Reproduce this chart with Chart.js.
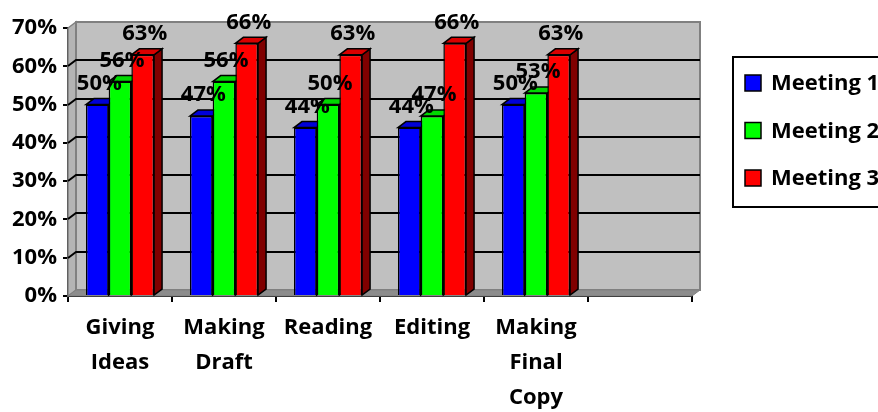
<!DOCTYPE html>
<html>
<head>
<meta charset="utf-8">
<title>Meetings</title>
<script src="https://cdn.jsdelivr.net/npm/chart.js@4.4.0/dist/chart.umd.min.js"></script>
<style>
  html, body { margin: 0; padding: 0; background: #fff; overflow: hidden; }
</style>
</head>
<body>
<canvas id="meetingChart" width="878" height="412"></canvas>
<script>
// categories (last slot is left empty on purpose)
const categories = [['Giving', 'Ideas'], ['Making', 'Draft'], ['Reading'], ['Editing'], ['Making', 'Final', 'Copy'], ''];
const seriesNames = ['Meeting 1', 'Meeting 2', 'Meeting 3'];
const meeting1 = [50, 47, 44, 44, 50, null];
const meeting2 = [56, 56, 50, 47, 53, null];
const meeting3 = [63, 66, 63, 66, 63, null];
const yMin = 0;
const yMax = 70;
const yStep = 10;

const frontColors = ['#0000ff', '#00ff00', '#ff0000'];
const topColors = ['#0000d8', '#00d800', '#d80000'];
const sideColors = ['#000080', '#008000', '#800000'];

const FONT = '"Open Sans", "DejaVu Sans", sans-serif';
const DX = 8, DY = -6;   // depth of the 3d box

function poly(ctx, pts, fill, stroke, lw) {
    ctx.beginPath();
    ctx.moveTo(pts[0][0], pts[0][1]);
    for (let i = 1; i < pts.length; i++) ctx.lineTo(pts[i][0], pts[i][1]);
    ctx.closePath();
    ctx.fillStyle = fill;
    ctx.fill();
    if (stroke) {
        ctx.strokeStyle = stroke;
        ctx.lineWidth = lw;
        ctx.stroke();
    }
}

// walls, floor, gridlines and the top/side faces of every bar
const box3d = {
    id: 'box3d',
    beforeDatasetsDraw(chart) {
        const { ctx, chartArea: a, scales: { y } } = chart;
        ctx.save();
        ctx.lineJoin = 'miter';
        // left side wall
        poly(ctx, [[a.left, a.top], [a.left + DX, a.top + DY], [a.left + DX, a.bottom + DY], [a.left, a.bottom]],
            '#b4b4b4', '#808080', 1.5);
        // back wall
        poly(ctx, [[a.left + DX, a.top + DY], [a.right + DX, a.top + DY], [a.right + DX, a.bottom + DY], [a.left + DX, a.bottom + DY]],
            '#c0c0c0', '#808080', 2);
        // floor
        poly(ctx, [[a.left, a.bottom], [a.left + DX, a.bottom + DY], [a.right + DX, a.bottom + DY], [a.right, a.bottom]],
            '#8c8c8c', '#808080', 1);

        // gridlines across side wall and back wall
        ctx.strokeStyle = '#000';
        ctx.lineWidth = 2;
        for (let v = yMin + yStep; v < yMax; v += yStep) {
            const py = Math.round(y.getPixelForValue(v));
            ctx.beginPath();
            ctx.moveTo(a.left, py);
            ctx.lineTo(a.left + DX, py + DY);
            ctx.lineTo(a.right + DX, py + DY);
            ctx.stroke();
        }

        // bar tops and sides, first series first so later fronts cover them
        chart.data.datasets.forEach((ds, di) => {
            const meta = chart.getDatasetMeta(di);
            meta.data.forEach((bar, i) => {
                if (ds.data[i] == null) return;
                const { x, y: top, base, width } = bar.getProps(['x', 'y', 'base', 'width'], true);
                const l = x - width / 2, r = x + width / 2;
                poly(ctx, [[r, top], [r + DX, top + DY], [r + DX, base + DY], [r, base]], sideColors[di], '#000', 1.5);
                poly(ctx, [[l, top], [l + DX, top + DY], [r + DX, top + DY], [r, top]], topColors[di], '#000', 1.5);
            });
        });
        ctx.restore();
    },
    afterDatasetsDraw(chart) {
        // value labels above the bars
        const { ctx } = chart;
        ctx.save();
        ctx.font = 'bold 22px ' + FONT;
        ctx.fillStyle = '#000';
        ctx.textAlign = 'center';
        ctx.textBaseline = 'middle';
        chart.data.datasets.forEach((ds, di) => {
            const meta = chart.getDatasetMeta(di);
            meta.data.forEach((bar, i) => {
                const v = ds.data[i];
                if (v == null) return;
                const { x, y } = bar.getProps(['x', 'y'], true);
                ctx.fillText(v + '%', x + 2, y - 21);
            });
        });
        ctx.restore();
    },
    afterDraw(chart) {
        // boxed legend on the right
        const { ctx, chartArea: a } = chart;
        const lx = a.right + 41, ly = 57;
        ctx.save();
        ctx.fillStyle = '#fff';
        ctx.fillRect(lx, ly, 200, 150);
        ctx.strokeStyle = '#000';
        ctx.lineWidth = 2;
        ctx.strokeRect(lx, ly, 200, 150);
        ctx.font = 'bold 22px ' + FONT;
        ctx.textBaseline = 'middle';
        ctx.textAlign = 'left';
        chart.data.datasets.forEach((ds, di) => {
            const cy = 83 + di * 47.5;
            ctx.fillStyle = frontColors[di];
            ctx.fillRect(lx + 12, cy - 8, 16, 16);
            ctx.lineWidth = 1.5;
            ctx.strokeRect(lx + 12, cy - 8, 16, 16);
            ctx.fillStyle = '#000';
            ctx.fillText(ds.label, lx + 38, cy + 1);
        });
        ctx.restore();
    }
};

const seriesData = [meeting1, meeting2, meeting3];

const chart = new Chart(document.getElementById('meetingChart'), {
    type: 'bar',
    data: {
        labels: categories,
        datasets: seriesNames.map((name, i) => ({
            label: name,
            data: seriesData[i],
            backgroundColor: frontColors[i],
            borderColor: '#000',
            borderWidth: 1.5,
            categoryPercentage: 0.655,
            barPercentage: 1
        }))
    },
    options: {
        responsive: false,
        animation: false,
        layout: { padding: { top: 28, right: 186, left: 0, bottom: 0 } },
        plugins: {
            legend: { display: false },
            tooltip: { enabled: false }
        },
        scales: {
            x: {
                grid: { drawOnChartArea: false, tickLength: 6, color: '#000', lineWidth: 2 },
                border: { color: '#000', width: 2 },
                ticks: {
                    color: '#000',
                    padding: 8,
                    maxRotation: 0,
                    autoSkip: false,
                    font: { family: FONT, size: 22, weight: 'bold', lineHeight: 35 / 22 }
                },
                afterFit(scale) { scale.height = 116; }
            },
            y: {
                min: yMin,
                max: yMax,
                grid: { drawOnChartArea: false, tickLength: 5, color: '#000', lineWidth: 2 },
                border: { color: '#000', width: 2 },
                ticks: {
                    stepSize: yStep,
                    color: '#000',
                    padding: 6,
                    font: { family: FONT, size: 22, weight: 'bold' },
                    callback: v => v + '%'
                },
                afterFit(scale) { scale.width = 68; }
            }
        }
    },
    plugins: [box3d]
});
</script>
</body>
</html>
